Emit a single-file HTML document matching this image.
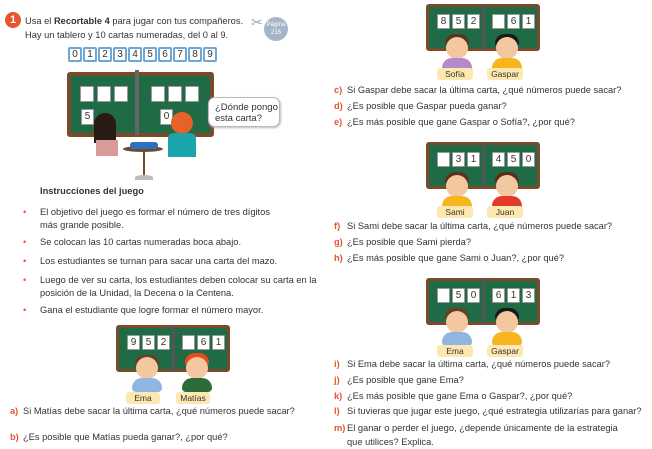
<!DOCTYPE html>
<html><head><meta charset="utf-8"><style>
*{margin:0;padding:0;box-sizing:border-box}
body{width:652px;height:448px;background:#fff;position:relative;overflow:hidden;font-family:"Liberation Sans",sans-serif;color:#333;font-size:9.3px}
.a{position:absolute;white-space:nowrap}
.bd{position:absolute;width:114px;height:47px;background:#1e6b45;border:3px solid #7a4a2a;border-radius:3px}
.bd .dv{position:absolute;left:53px;top:-3px;width:3px;height:47px;background:#555}
.c{position:absolute;width:13px;height:15px;background:#fff;border:1px solid #999;border-radius:1px;font-size:10px;text-align:center;line-height:13px;color:#333}
.hd{position:absolute;width:22px;height:22px;border-radius:50%;background:#f3c79f}
.hr{position:absolute;width:24px;height:12px;border-radius:12px 12px 3px 3px}
.by{position:absolute;width:30px;height:14px;border-radius:15px 15px 6px 6px}
.lb{position:absolute;height:12px;background:#fde8b0;border-radius:3px;font-size:8.5px;text-align:center;line-height:12px}
.q{position:absolute;white-space:nowrap;font-size:9.3px}
.q b{color:#e8542b;display:inline-block;width:13px}
.bl{position:absolute;font-size:9.3px;line-height:13px;white-space:nowrap}
.bl:before{content:"•";color:#e8542b;position:absolute;left:-17px}
.bc{position:absolute;width:14px;height:15px;border:2px solid #6fa6d6;background:#fff;font-size:10px;text-align:center;line-height:11px;border-radius:2px}
</style></head><body>

<div class="a" style="left:5px;top:12px;width:16px;height:16px;border-radius:50%;background:#e8542b;color:#fff;font-weight:bold;text-align:center;line-height:16px;font-size:11px">1</div>
<div class="a" style="left:25px;top:14px;line-height:14px;font-size:9.3px">Usa el <b>Recortable 4</b> para jugar con tus compañeros.<br>Hay un tablero y 10 cartas numeradas, del 0 al 9.</div>
<div class="a" style="left:264px;top:17px;width:24px;height:24px;border-radius:50%;background:#a5b5c7;color:#fff;font-size:6px;text-align:center;line-height:8px;padding-top:4px">Página<br>215</div>
<div class="a" style="left:251px;top:14px;color:#9ab;font-size:14px">✂</div>

<div class="a" style="left:68px;top:47px">
<div class="bc" style="left:0">0</div><div class="bc" style="left:15px">1</div><div class="bc" style="left:30px">2</div><div class="bc" style="left:45px">3</div><div class="bc" style="left:60px">4</div><div class="bc" style="left:75px">5</div><div class="bc" style="left:90px">6</div><div class="bc" style="left:105px">7</div><div class="bc" style="left:120px">8</div><div class="bc" style="left:135px">9</div>
</div>

<div class="a" style="left:67px;top:72px;width:147px;height:65px;background:#1e6b45;border:4px solid #7a4a2a;border-radius:3px"></div>
<div class="a" style="left:135px;top:70px;width:4px;height:65px;background:#666"></div>
<div class="c" style="left:80px;top:86px;width:14px;height:16px"></div><div class="c" style="left:97px;top:86px;width:14px;height:16px"></div><div class="c" style="left:114px;top:86px;width:14px;height:16px"></div>
<div class="c" style="left:151px;top:86px;width:14px;height:16px"></div><div class="c" style="left:168px;top:86px;width:14px;height:16px"></div><div class="c" style="left:185px;top:86px;width:14px;height:16px"></div>
<div class="c" style="left:81px;top:109px;height:16px">5</div><div class="c" style="left:160px;top:109px;height:16px">0</div>
<div class="a" style="left:94px;top:113px;width:22px;height:30px;background:#2a1a14;border-radius:11px 11px 0 0"></div>
<div class="a" style="left:96px;top:140px;width:22px;height:16px;background:#d99a9a"></div>
<div class="a" style="left:171px;top:112px;width:22px;height:22px;background:#e8602a;border-radius:50%"></div>
<div class="a" style="left:168px;top:133px;width:28px;height:24px;background:#1aa5ab;border-radius:6px 6px 0 0"></div>
<div class="a" style="left:208px;top:97px;width:72px;height:30px;background:#fff;border:1px solid #bbb;border-radius:7px;font-size:9.5px;line-height:11px;padding:4px 6px;box-shadow:1px 1px 2px #bbb">¿Dónde pongo<br>esta carta?</div>
<div class="a" style="left:123px;top:146px;width:40px;height:6px;background:#6b4a30;border-radius:50%"></div>
<div class="a" style="left:130px;top:142px;width:28px;height:7px;background:#2f6fbf;border-radius:3px"></div>
<div class="a" style="left:143px;top:151px;width:2px;height:26px;background:#6b4a30"></div>
<div class="a" style="left:135px;top:175px;width:18px;height:5px;background:#bbb;border-radius:50% 50% 0 0"></div>

<div class="a" style="left:40px;top:186px;font-weight:bold;font-size:9.3px">Instrucciones del juego</div>
<div class="bl" style="left:40px;top:206px">El objetivo del juego es formar el número de tres dígitos<br>más grande posible.</div>
<div class="bl" style="left:40px;top:236px">Se colocan las 10 cartas numeradas boca abajo.</div>
<div class="bl" style="left:40px;top:255px">Los estudiantes se turnan para sacar una carta del mazo.</div>
<div class="bl" style="left:40px;top:274px">Luego de ver su carta, los estudiantes deben colocar su carta en la<br>posición de la Unidad, la Decena o la Centena.</div>
<div class="bl" style="left:40px;top:304px">Gana el estudiante que logre formar el número mayor.</div>

<div class="a" style="left:116px;top:325px">
<div class="bd" style="left:0;top:0"><div class="dv"></div></div>
<div class="c" style="left:11px;top:10px">9</div><div class="c" style="left:26px;top:10px">5</div><div class="c" style="left:41px;top:10px">2</div>
<div class="c" style="left:66px;top:10px"></div><div class="c" style="left:81px;top:10px">6</div><div class="c" style="left:96px;top:10px">1</div>
<div class="hr" style="left:19px;top:30px;background:#6a3d22"></div><div class="hd" style="left:20px;top:32px"></div><div class="by" style="left:16px;top:53px;background:#8fb6e0"></div>
<div class="hr" style="left:69px;top:28px;background:#e84a1e"></div><div class="hd" style="left:70px;top:32px"></div><div class="by" style="left:66px;top:53px;background:#2e6b3a"></div>
<div class="lb" style="left:10px;top:67px;width:34px">Ema</div><div class="lb" style="left:60px;top:67px;width:34px">Matías</div>
</div>

<div class="a" style="left:426px;top:4px">
<div class="bd" style="left:0;top:0"><div class="dv"></div></div>
<div class="c" style="left:11px;top:10px">8</div><div class="c" style="left:26px;top:10px">5</div><div class="c" style="left:41px;top:10px">2</div>
<div class="c" style="left:66px;top:10px"></div><div class="c" style="left:81px;top:10px">6</div><div class="c" style="left:96px;top:10px">1</div>
<div class="hr" style="left:19px;top:30px;background:#5a3420"></div><div class="hd" style="left:20px;top:33px"></div><div class="by" style="left:16px;top:54px;background:#b58ac8"></div>
<div class="hr" style="left:69px;top:30px;background:#1a1a1a"></div><div class="hd" style="left:70px;top:33px"></div><div class="by" style="left:66px;top:54px;background:#f6b51e"></div>
<div class="lb" style="left:11px;top:64px;width:36px">Sofía</div><div class="lb" style="left:61px;top:64px;width:36px">Gaspar</div>
</div>

<div class="a" style="left:426px;top:142px">
<div class="bd" style="left:0;top:0"><div class="dv"></div></div>
<div class="c" style="left:11px;top:10px"></div><div class="c" style="left:26px;top:10px">3</div><div class="c" style="left:41px;top:10px">1</div>
<div class="c" style="left:66px;top:10px">4</div><div class="c" style="left:81px;top:10px">5</div><div class="c" style="left:96px;top:10px">0</div>
<div class="hr" style="left:19px;top:30px;background:#5a3420"></div><div class="hd" style="left:20px;top:33px"></div><div class="by" style="left:16px;top:54px;background:#f6b51e"></div>
<div class="hr" style="left:69px;top:30px;background:#5a2f18"></div><div class="hd" style="left:70px;top:33px"></div><div class="by" style="left:66px;top:54px;background:#e23a2a"></div>
<div class="lb" style="left:11px;top:64px;width:36px">Sami</div><div class="lb" style="left:61px;top:64px;width:36px">Juan</div>
</div>

<div class="a" style="left:426px;top:278px">
<div class="bd" style="left:0;top:0"><div class="dv"></div></div>
<div class="c" style="left:11px;top:10px"></div><div class="c" style="left:26px;top:10px">5</div><div class="c" style="left:41px;top:10px">0</div>
<div class="c" style="left:66px;top:10px">6</div><div class="c" style="left:81px;top:10px">1</div><div class="c" style="left:96px;top:10px">3</div>
<div class="hr" style="left:19px;top:30px;background:#6a3d22"></div><div class="hd" style="left:20px;top:33px"></div><div class="by" style="left:16px;top:54px;background:#8fb6e0"></div>
<div class="hr" style="left:69px;top:30px;background:#1a1a1a"></div><div class="hd" style="left:70px;top:33px"></div><div class="by" style="left:66px;top:54px;background:#f6b51e"></div>
<div class="lb" style="left:11px;top:67px;width:36px">Ema</div><div class="lb" style="left:61px;top:67px;width:36px">Gaspar</div>
</div>

<div class="q" style="left:10px;top:406px"><b>a)</b>Si Matías debe sacar la última carta, ¿qué números puede sacar?</div>
<div class="q" style="left:10px;top:432px"><b>b)</b>¿Es posible que Matías pueda ganar?, ¿por qué?</div>

<div class="q" style="left:334px;top:85px"><b>c)</b>Si Gaspar debe sacar la última carta, ¿qué números puede sacar?</div>
<div class="q" style="left:334px;top:101px"><b>d)</b>¿Es posible que Gaspar pueda ganar?</div>
<div class="q" style="left:334px;top:117px"><b>e)</b>¿Es más posible que gane Gaspar o Sofía?, ¿por qué?</div>
<div class="q" style="left:334px;top:221px"><b>f)</b>Si Sami debe sacar la última carta, ¿qué números puede sacar?</div>
<div class="q" style="left:334px;top:237px"><b>g)</b>¿Es posible que Sami pierda?</div>
<div class="q" style="left:334px;top:253px"><b>h)</b>¿Es más posible que gane Sami o Juan?, ¿por qué?</div>
<div class="q" style="left:334px;top:359px"><b>i)</b>Si Ema debe sacar la última carta, ¿qué números puede sacar?</div>
<div class="q" style="left:334px;top:375px"><b>j)</b>¿Es posible que gane Ema?</div>
<div class="q" style="left:334px;top:391px"><b>k)</b>¿Es más posible que gane Ema o Gaspar?, ¿por qué?</div>
<div class="q" style="left:334px;top:406px"><b>l)</b>Si tuvieras que jugar este juego, ¿qué estrategia utilizarías para ganar?</div>
<div class="q" style="left:334px;top:421px;line-height:14px"><b>m)</b>El ganar o perder el juego, ¿depende únicamente de la estrategia<br><span style="display:inline-block;width:13px"></span>que utilices? Explica.</div>
</body></html>
